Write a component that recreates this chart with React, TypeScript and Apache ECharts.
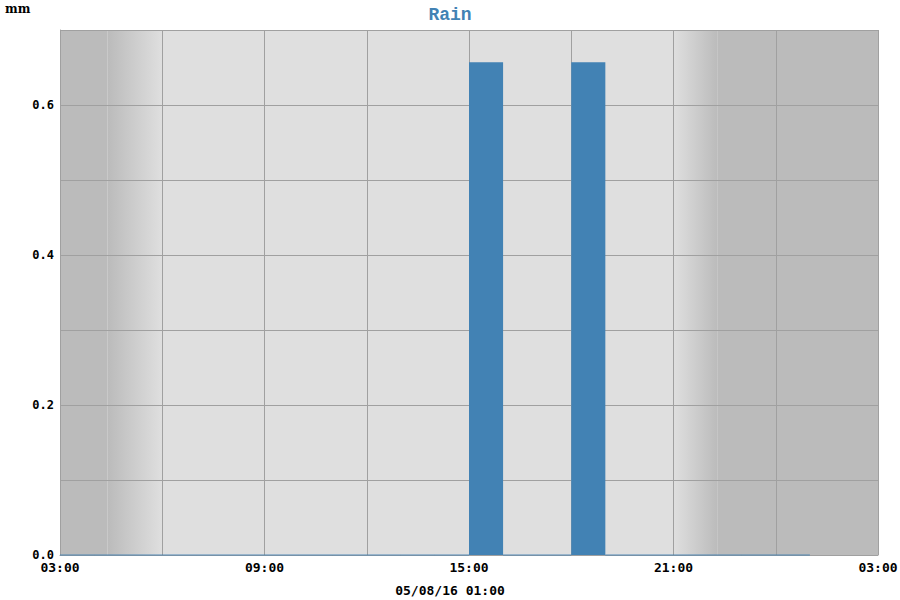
import React, { useEffect, useRef } from "react";
import * as echarts from "echarts";

// Hour-ending times (start 03:00 on 05/07/16) and rain per hour, mm
const hourEnds = [
  "04:00", "05:00", "06:00", "07:00", "08:00", "09:00", "10:00", "11:00",
  "12:00", "13:00", "14:00", "15:00", "16:00", "17:00", "18:00", "19:00",
  "20:00", "21:00", "22:00", "23:00", "00:00", "01:00",
];
const rain = [
  0, 0, 0, 0, 0, 0, 0, 0,
  0, 0, 0, 0, 0.657, 0, 0, 0.657,
  0, 0, 0, 0, 0, 0,
];
// Day / night shading (hours after 03:00)
const nightStart = 0;
const dawnStart = 1.4;
const dayStart = 3.0;
const dayEnd = 18.0;
const duskEnd = 19.3;
const axisEnd = 24;

const title = "Rain";
const unit = "mm";
const dateLabel = "05/08/16 01:00";
const startHour = 3;

const NIGHT = "#bbbbbb";
const DAY = "#dfdfdf";
const BAR = "#4282b4";
const GRID = "#a0a0a0";
const MONO = "'DejaVu Sans Mono', monospace";

function toOffset(t: string): number {
  const hh = parseInt(t.split(":")[0], 10);
  let o = (hh - startHour + 24) % 24;
  if (o === 0) o = 24;
  return o;
}

export default function App() {
  const ref = useRef<HTMLDivElement>(null);
  useEffect(() => {
    if (!ref.current) return;
    const chart = echarts.init(ref.current, null, { renderer: "svg" });
    const barData = hourEnds.map((t, i) => [toOffset(t), rain[i]]);
    const grad = (from: string, to: string) =>
      new echarts.graphic.LinearGradient(0, 0, 1, 0, [
        { offset: 0, color: from },
        { offset: 1, color: to },
      ]);
    chart.setOption({
      animation: false,
      title: {
        text: title,
        left: "center",
        top: 1,
        textStyle: {
          color: BAR,
          fontFamily: "'Liberation Mono', monospace",
          fontWeight: "bold",
          fontSize: 18,
        },
      },
      graphic: [
        {
          type: "text",
          left: 5,
          top: 3,
          style: {
            text: unit,
            fill: "#000",
            font: "bold 12px 'DejaVu Serif', serif",
          },
        },
        {
          type: "text",
          left: "center",
          top: 584,
          style: {
            text: dateLabel,
            fill: "#000",
            font: "bold 13px 'DejaVu Sans Mono', monospace",
          },
        },
      ],
      grid: {
        left: 60,
        right: 22,
        top: 30,
        bottom: 45,
        outerBoundsMode: "none",
        containLabel: false,
      },
      xAxis: {
        type: "value",
        min: 0,
        max: axisEnd,
        interval: 3,
        z: 2,
        axisLine: { show: true, lineStyle: { color: GRID } },
        axisTick: { show: false },
        axisLabel: {
          margin: 6,
          fontFamily: MONO,
          fontWeight: "bold",
          fontSize: 13,
          color: "#000",
          formatter: (v: number) => {
            if (Math.round(v) % 6 !== 0) return "";
            const h = (startHour + Math.round(v)) % 24;
            return (h < 10 ? "0" : "") + h + ":00";
          },
        },
        splitLine: { show: true, lineStyle: { color: GRID, width: 1 } },
      },
      yAxis: {
        type: "value",
        min: 0,
        max: 0.7,
        interval: 0.1,
        z: 2,
        axisLine: { show: true, lineStyle: { color: GRID } },
        axisTick: { show: false },
        axisLabel: {
          margin: 6,
          fontFamily: MONO,
          fontWeight: "bold",
          fontSize: 12,
          color: "#000",
          formatter: (v: number) =>
            Math.round(v * 10) % 2 === 0 ? v.toFixed(1) : "",
        },
        splitLine: { show: true, lineStyle: { color: GRID, width: 1 } },
      },
      series: [
        {
          type: "line",
          data: [],
          z: 0,
          silent: true,
          markArea: {
            silent: true,
            z: 1,
            data: [
              [{ xAxis: nightStart, itemStyle: { color: NIGHT } }, { xAxis: dawnStart }],
              [{ xAxis: dawnStart, itemStyle: { color: grad(NIGHT, DAY) } }, { xAxis: dayStart }],
              [{ xAxis: dayStart, itemStyle: { color: DAY } }, { xAxis: dayEnd }],
              [{ xAxis: dayEnd, itemStyle: { color: grad(DAY, NIGHT) } }, { xAxis: duskEnd }],
              [{ xAxis: duskEnd, itemStyle: { color: NIGHT } }, { xAxis: axisEnd }],
            ],
          },
        },
        {
          type: "custom",
          z: 3,
          silent: true,
          data: barData,
          encode: { x: 0, y: 1 },
          renderItem: (params: any, api: any) => {
            const end = api.value(0);
            const v = api.value(1);
            const p0 = api.coord([end - 1, v]);
            const p1 = api.coord([end, 0]);
            return {
              type: "rect",
              shape: {
                x: p0[0],
                y: p0[1],
                width: p1[0] - p0[0],
                height: p1[1] - p0[1],
              },
              style: { fill: BAR, stroke: BAR, lineWidth: v > 0 ? 0 : 1, opacity: v > 0 ? 1 : 0.5 },
            };
          },
        },
      ],
    });
    return () => chart.dispose();
  }, []);
  return <div ref={ref} style={{ width: 900, height: 600, position: "absolute", left: 0, top: 0 }} />;
}
